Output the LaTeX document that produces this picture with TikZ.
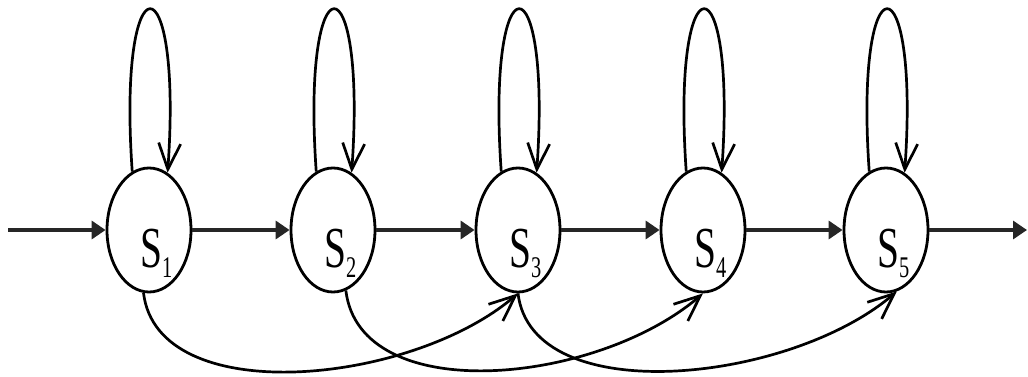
\documentclass[tikz,border=0pt]{standalone}
\usepackage{fontspec}
\setmainfont{Liberation Serif}
\usetikzlibrary{shapes.geometric,arrows.meta,calc}
\begin{document}
\begin{tikzpicture}[x=1pt,y=-1pt,
  state/.style={ellipse,draw,line width=2.8pt,minimum width=84pt,minimum height=124pt,inner sep=0pt},
  lbl/.style={inner sep=0pt,anchor=base west,font=\fontsize{58}{58}\selectfont},
  edge/.style={line width=2.7pt},
  fwd/.style={line width=3.4pt,draw=black!85,-{Triangle[length=14pt,width=18pt]}},
  barb/.style={edge,-{Straight Barb[length=26pt,width=22pt,line width=2.7pt]}},
]
\useasboundingbox (0,0) rectangle (1028,377);
\newcommand{\slbl}[1]{\scalebox{0.68}[1]{S}\raisebox{-10pt}{\fontsize{30}{30}\selectfont\scalebox{0.68}[1]{#1}}}

\node[state] (s1) at (149,230) {};
\node[state] (s2) at (333,230) {};
\node[state] (s3) at (518,230) {};
\node[state] (s4) at (703,230) {};
\node[state] (s5) at (886,230) {};

\node[lbl] (l1) at (140,267) {\slbl{1}};
\node[lbl] (l2) at (324,267) {\slbl{2}};
\node[lbl] (l3) at (509,267) {\slbl{3}};
\node[lbl] (l4) at (694,267) {\slbl{4}};
\node[lbl] (l5) at (877,267) {\slbl{5}};

\coordinate (in) at (8,230);
\coordinate (out) at (1027,230);

\draw[fwd] (in) -- (s1.west);
\draw[fwd] (s1.east) -- (s2.west);
\draw[fwd] (s2.east) -- (s3.west);
\draw[fwd] (s3.east) -- (s4.west);
\draw[fwd] (s4.east) -- (s5.west);
\draw[fwd] (s5.east) -- (out);

\foreach \s in {s1,s2,s3,s4,s5}{
  \draw[barb] (\s.106) .. controls ($(\s.center)+(-32,-275)$) and ($(\s.center)+(34,-275)$) .. (\s.72);
}

\draw[barb] (s1.265) .. controls ($(s1.265)+(14,117)$) and ($(s3.south)+(-107,92)$) .. (s3.south);
\draw[barb] (s2.282) .. controls ($(s2.282)+(14,117)$) and ($(s4.south)+(-107,92)$) .. (s4.south);
\draw[barb] (s3.south) .. controls ($(s3.south)+(14,117)$) and ($(s5.280)+(-107,92)$) .. (s5.280);
\end{tikzpicture}
\end{document}
